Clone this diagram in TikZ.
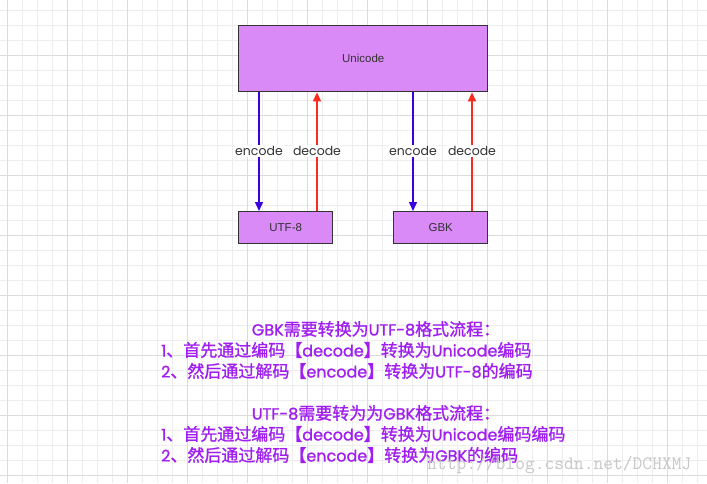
\documentclass[tikz,border=0pt]{standalone}
\usepackage{fontspec}
\setmainfont{Liberation Sans}
\newfontfamily\cjk[FakeBold=1.2]{Noto Sans CJK SC}
\newfontfamily\geo{Poppins}
\newfontfamily\geob[FakeBold=1.2]{Poppins}
\newcommand{\lat}[1]{{\geob\fontsize{16}{19}\selectfont #1}}
\usetikzlibrary{arrows.meta}
\definecolor{boxfill}{HTML}{D98AF7}
\definecolor{encblue}{HTML}{3A00DD}
\definecolor{decred}{HTML}{FF2A1E}
\definecolor{txtpurple}{HTML}{A01EF0}
\definecolor{gridminor}{HTML}{EDEDED}
\definecolor{gridmajor}{HTML}{DCDCDC}
\tikzset{
  x=1pt,y=-1pt,
  boxnode/.style={draw=black!80,line width=1.4pt,fill=boxfill,inner sep=0pt,anchor=north west},
  encarrow/.style={draw=encblue,line width=1.4pt,-{Triangle[length=9pt,width=8pt]}},
  decarrow/.style={draw=decred,line width=1.4pt,-{Triangle[length=9pt,width=8pt]}},
  arrlabel/.style={fill=white,inner sep=1pt,font=\geo\fontsize{12.5}{14}\selectfont,text=black!80},
  infotext/.style={text=txtpurple,font=\cjk\fontsize{17}{20}\selectfont,inner sep=0pt},
}
\begin{document}
\begin{tikzpicture}
\useasboundingbox (0,0) rectangle (707,483);
\fill[white] (0,0) rectangle (707,483);
% grid
\foreach \x in {7,22,...,707} \draw[gridminor,line width=0.8pt] (\x,0) -- (\x,483);
\foreach \y in {10,25,...,483} \draw[gridminor,line width=0.8pt] (0,\y) -- (707,\y);
\foreach \x in {7,67,...,707} \draw[gridmajor,line width=0.8pt] (\x,0) -- (\x,483);
\foreach \y in {55,115,...,483} \draw[gridmajor,line width=0.8pt] (0,\y) -- (707,\y);
% boxes
\node[boxnode,minimum width=249pt,minimum height=66pt] (uni) at (238,25) {};
\node[font=\fontsize{11.5}{13}\selectfont,text=black!80] at (uni.center) {Unicode};
\node[boxnode,minimum width=94pt,minimum height=32pt] (utf) at (238,211) {};
\node[font=\fontsize{11.5}{13}\selectfont,text=black!80] at (utf.center) {UTF-8};
\node[boxnode,minimum width=94pt,minimum height=32pt] (gbk) at (393,211) {};
\node[font=\fontsize{11.5}{13}\selectfont,text=black!80] at (gbk.center) {GBK};
% arrows
\draw[encarrow] (uni.south west) ++(21,0) coordinate (a1s) -- (a1s |- utf.north) coordinate (a1e);
\draw[decarrow] (utf.north west) ++(79,0) coordinate (a2s) -- (a2s |- uni.south) coordinate (a2e);
\draw[encarrow] (uni.south west) ++(175,0) coordinate (a3s) -- (a3s |- gbk.north) coordinate (a3e);
\draw[decarrow] (gbk.north west) ++(79,0) coordinate (a4s) -- (a4s |- uni.south) coordinate (a4e);
\node[arrlabel] (l1) at (259,151) {encode};
\node[arrlabel] (l2) at (317,151) {decode};
\node[arrlabel] (l3) at (413,151) {encode};
\node[arrlabel] (l4) at (472,151) {decode};
% text
\node[infotext] (t1) at (376,329) {\lat{GBK}需要转换为\lat{UTF-8}格式流程：};
\node[infotext,anchor=west] (t2) at (161,350) {\lat{1}、首先通过编码【\lat{decode}】转换为\lat{Unicode}编码};
\node[infotext,anchor=west] (t3) at (161,371) {\lat{2}、然后通过解码【\lat{encode}】转换为\lat{UTF-8}的编码};
\node[infotext] (t4) at (376,413) {\lat{UTF-8}需要转为为\lat{GBK}格式流程：};
\node[infotext,anchor=west] (t5) at (161,434) {\lat{1}、首先通过编码【\lat{decode}】转换为\lat{Unicode}编码编码};
\node[infotext,anchor=west] (t6) at (161,455) {\lat{2}、然后通过解码【\lat{encode}】转换为\lat{GBK}的编码};
\node[text=black!22,font=\fontfamily{lmtt}\fontsize{19}{22}\selectfont,inner sep=0pt,anchor=west] (wm) at (427,465) {http://blog.csdn.net/DCHXMJ};
\end{tikzpicture}
\end{document}
